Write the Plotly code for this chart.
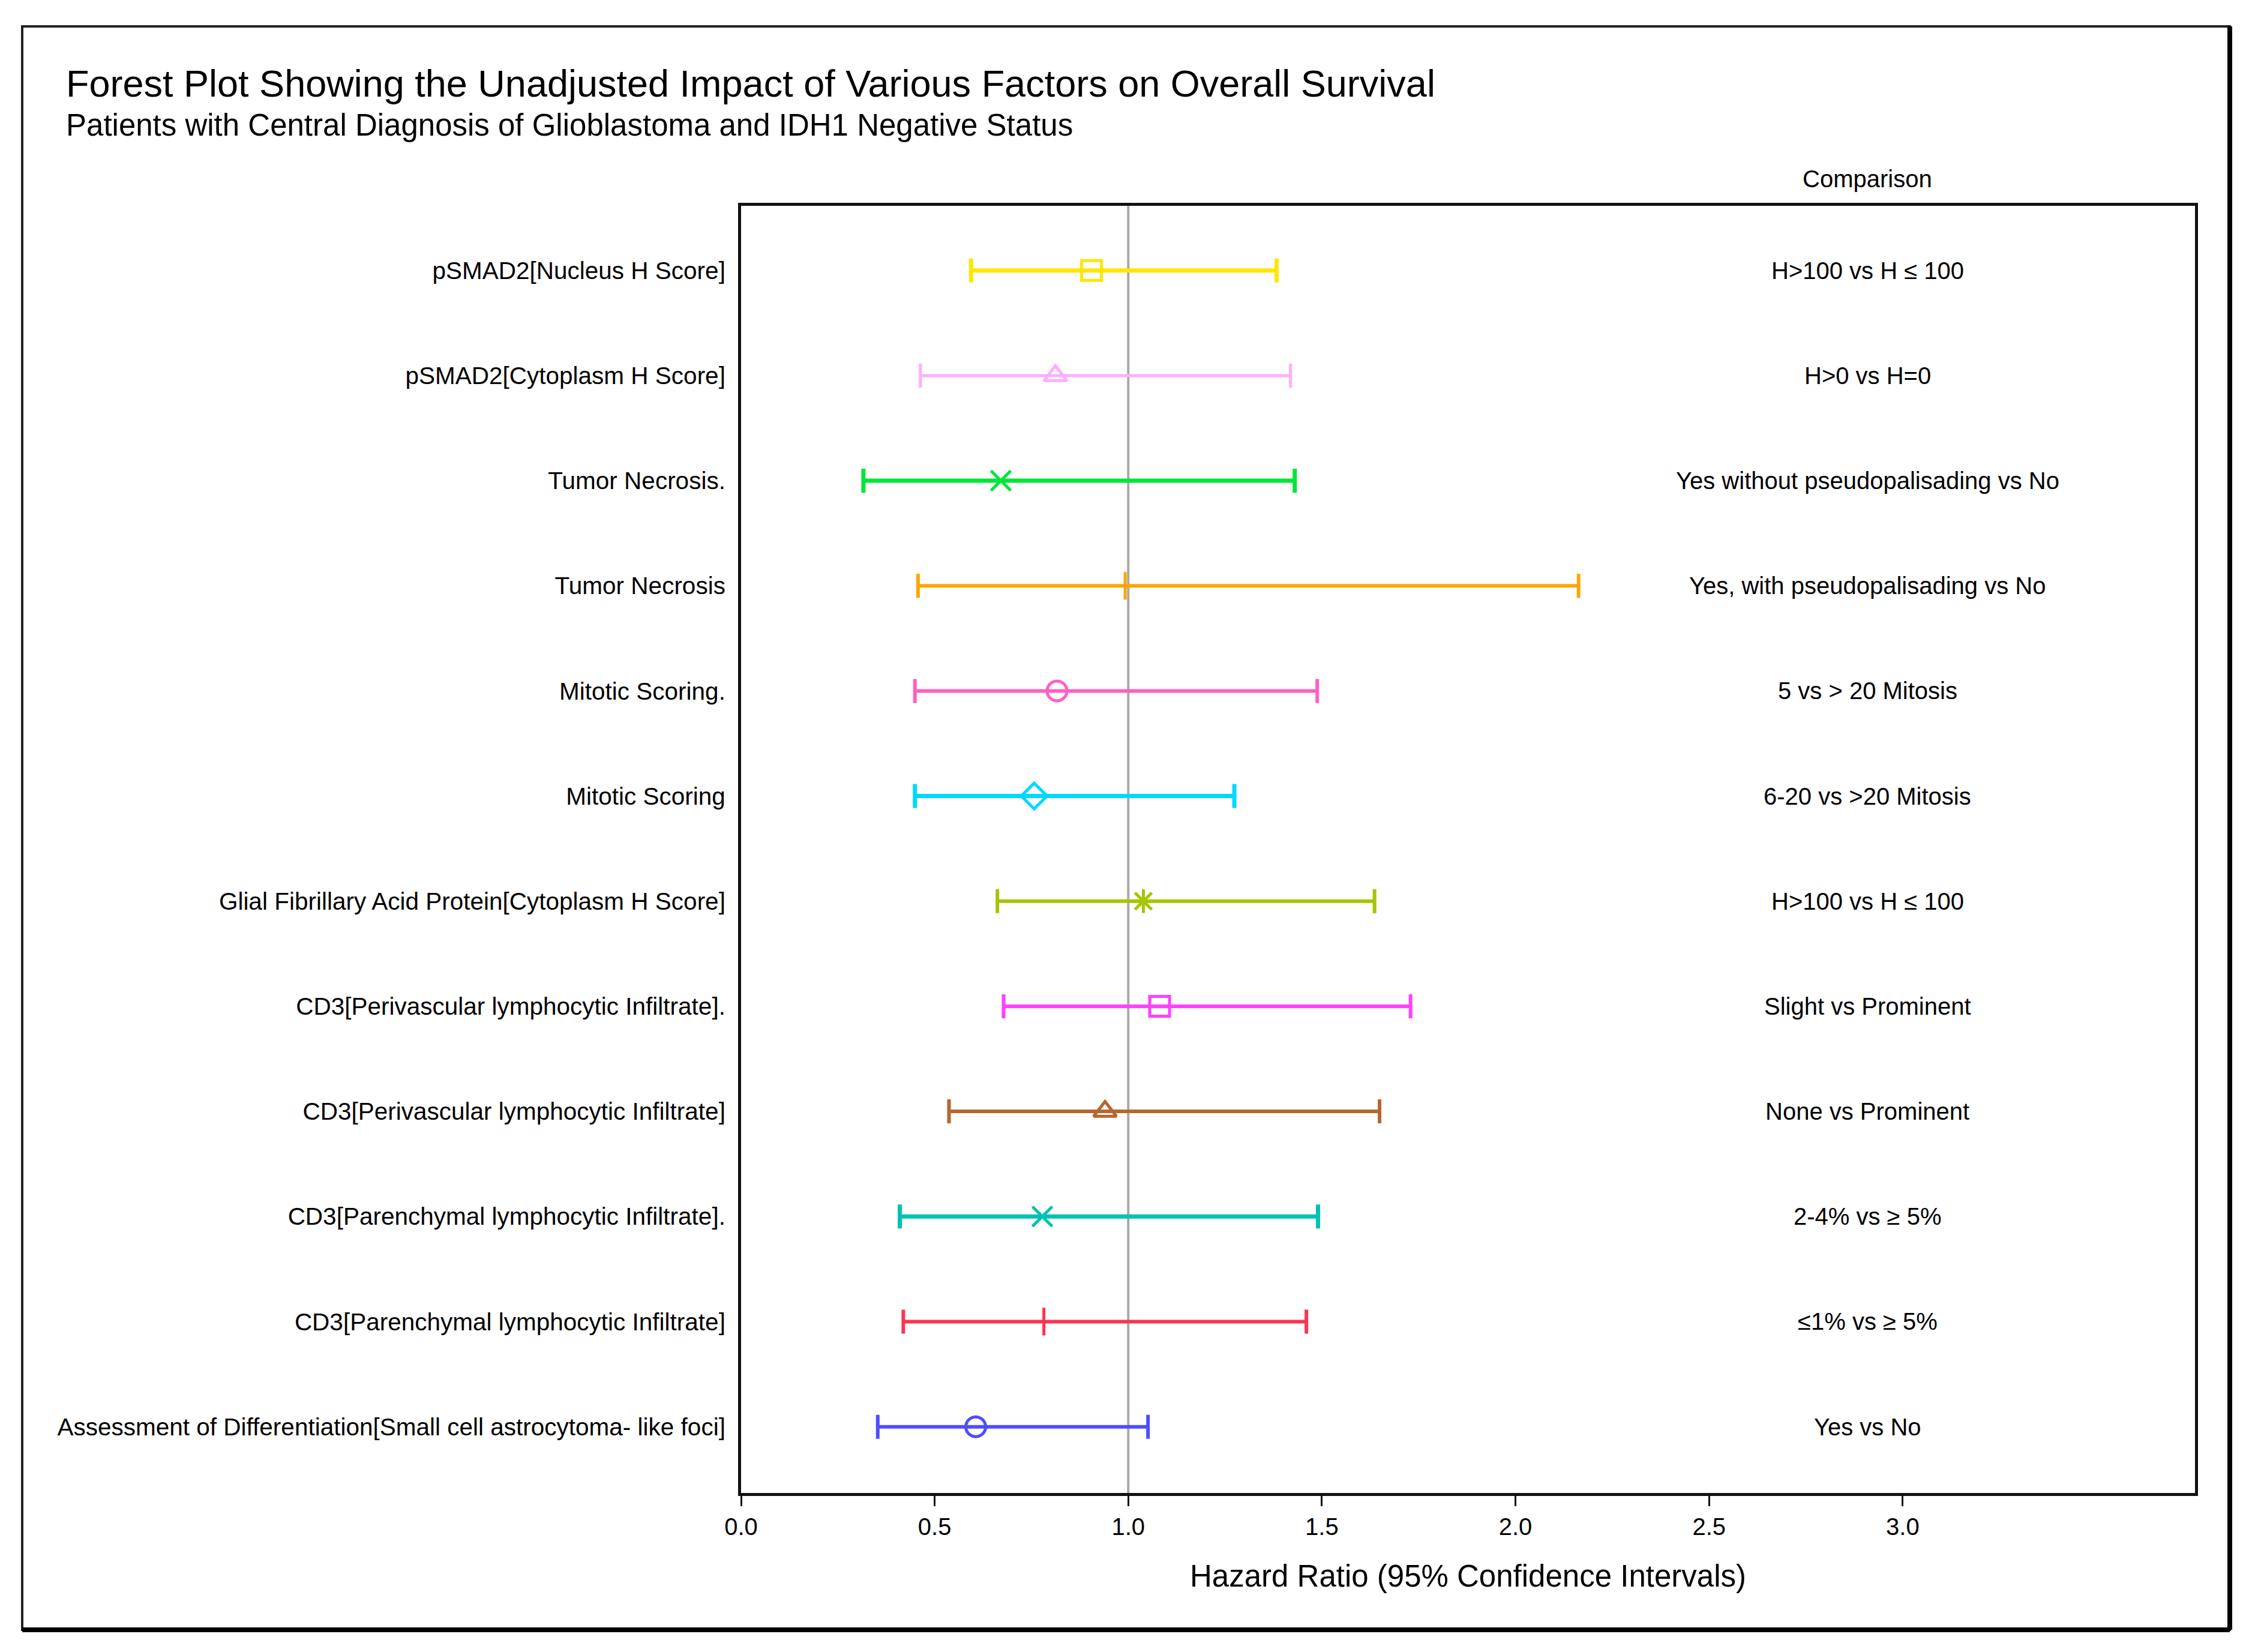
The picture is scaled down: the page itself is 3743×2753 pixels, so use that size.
import plotly.graph_objects as go

factors = [
    "pSMAD2[Nucleus H Score]",
    "pSMAD2[Cytoplasm H Score]",
    "Tumor Necrosis.",
    "Tumor Necrosis",
    "Mitotic Scoring.",
    "Mitotic Scoring",
    "Glial Fibrillary Acid Protein[Cytoplasm H Score]",
    "CD3[Perivascular lymphocytic Infiltrate].",
    "CD3[Perivascular lymphocytic Infiltrate]",
    "CD3[Parenchymal lymphocytic Infiltrate].",
    "CD3[Parenchymal lymphocytic Infiltrate]",
    "Assessment of Differentiation[Small cell astrocytoma- like foci]",
]
comparisons = [
    "H>100 vs H ≤ 100",
    "H>0 vs H=0",
    "Yes without pseudopalisading vs No",
    "Yes, with pseudopalisading vs No",
    "5 vs > 20 Mitosis",
    "6-20 vs >20 Mitosis",
    "H>100 vs H ≤ 100",
    "Slight vs Prominent",
    "None vs Prominent",
    "2-4% vs ≥ 5%",
    "≤1% vs ≥ 5%",
    "Yes vs No",
]
hazard_ratio = [0.905, 0.812, 0.671, 0.992, 0.816, 0.757, 1.039, 1.081, 0.940, 0.778, 0.782, 0.606]
ci_lower = [0.594, 0.463, 0.316, 0.457, 0.449, 0.449, 0.662, 0.678, 0.537, 0.410, 0.419, 0.353]
ci_upper = [1.383, 1.419, 1.430, 2.163, 1.488, 1.274, 1.636, 1.729, 1.649, 1.490, 1.460, 1.051]
x_ticks = [0.0, 0.5, 1.0, 1.5, 2.0, 2.5, 3.0]

colors = ["#FFE600", "#FFADFF", "#00E639", "#FFA500", "#FF5EC4", "#00D9FF",
          "#A6C400", "#FF40FF", "#B8652E", "#00C2B2", "#FF3350", "#4D4DFF"]
symbols = ["square-open", "triangle-up-open", "x-thin-open", "line-ns-open", "circle-open",
           "diamond-open", "asterisk-open", "square-open", "triangle-up-open", "x-thin-open",
           "cross-thin-open", "circle-open"]
thick = [7, 5, 7, 6, 6, 7, 6, 6, 6, 7, 6, 6]

FONT = "Liberation Sans, Arial, sans-serif"
TXT = "#000000"
BODY = 8  # default page margin of the html body
PL, PR, PT, PB = 1235, 3658, 343, 2488  # plot area pixels in the reference
PW, PH = PR - PL, PB - PT


def px_to_paper_x(px):
    return (px - PL) / PW


def px_to_paper_y(py):
    return (PB - py) / PH


fig = go.Figure()
rows = list(range(1, len(factors) + 1))

for i, f in enumerate(factors):
    fig.add_trace(go.Scatter(
        x=[hazard_ratio[i]], y=[rows[i]], mode="markers",
        marker=dict(symbol=symbols[i], size=33, color=colors[i],
                    line=dict(color=colors[i], width=5)),
        error_x=dict(type="data", symmetric=False,
                     array=[ci_upper[i] - hazard_ratio[i]],
                     arrayminus=[hazard_ratio[i] - ci_lower[i]],
                     color=colors[i], thickness=thick[i], width=20),
        showlegend=False, name=f,
    ))

# reference line at HR = 1
fig.add_shape(type="line", x0=1, x1=1, y0=0, y1=1, xref="x", yref="paper",
              line=dict(color="#A8A8A8", width=4), layer="below")

# comparison column
for i, c in enumerate(comparisons):
    fig.add_annotation(x=2.909, y=rows[i], xref="x", yref="y", text=c, showarrow=False,
                       xanchor="center", yanchor="middle",
                       font=dict(family=FONT, size=40, color=TXT))
fig.add_annotation(x=2.909, y=px_to_paper_y(298), xref="x", yref="paper", text="Comparison",
                   showarrow=False, xanchor="center", yanchor="middle",
                   font=dict(family=FONT, size=40, color=TXT))

# titles
fig.add_annotation(x=px_to_paper_x(108), y=px_to_paper_y(139), xref="paper", yref="paper",
                   text="Forest Plot Showing the Unadjusted Impact of Various Factors on Overall Survival",
                   showarrow=False, xanchor="left", yanchor="middle",
                   font=dict(family=FONT, size=63, color=TXT))
fig.add_annotation(x=px_to_paper_x(108), y=px_to_paper_y(208), xref="paper", yref="paper",
                   text="Patients with Central Diagnosis of Glioblastoma and IDH1 Negative Status",
                   showarrow=False, xanchor="left", yanchor="middle",
                   font=dict(family=FONT, size=51, color=TXT))
fig.add_annotation(x=0.5, y=px_to_paper_y(2626), xref="paper", yref="paper",
                   text="Hazard Ratio (95% Confidence Intervals)", showarrow=False,
                   xanchor="center", yanchor="middle", font=dict(family=FONT, size=51, color=TXT))

# outer frame (thin left/top, heavier right/bottom)
fx0, fx1, fy0, fy1 = px_to_paper_x(37), px_to_paper_x(3716), px_to_paper_y(2716), px_to_paper_y(44)
fig.add_shape(type="rect", xref="paper", yref="paper", x0=fx0, x1=fx1, y0=fy0, y1=fy1,
              line=dict(color="#222222", width=4), fillcolor="rgba(0,0,0,0)")
fig.add_shape(type="line", xref="paper", yref="paper", x0=fx1, x1=fx1, y0=fy0, y1=fy1,
              line=dict(color="#000000", width=8))
fig.add_shape(type="line", xref="paper", yref="paper", x0=fx0, x1=fx1, y0=fy0, y1=fy0,
              line=dict(color="#000000", width=8))

fig.update_layout(
    width=3743, height=2753,
    margin=dict(l=PL - BODY, r=3743 - PR + BODY, t=PT - BODY, b=2753 - PB + BODY),
    paper_bgcolor="white", plot_bgcolor="white",
    font=dict(family=FONT, size=40, color=TXT),
    xaxis=dict(range=[0, 3.755], tickvals=x_ticks, ticktext=[f"{v:.1f}" for v in x_ticks],
               showgrid=False, zeroline=False, showline=True, linecolor="#111111", linewidth=5,
               mirror=True, ticks="outside", ticklen=17, tickwidth=3, tickcolor="#111111",
               tickfont=dict(family=FONT, size=40, color=TXT)),
    yaxis=dict(range=[12.63, 0.385], tickvals=rows, ticktext=factors,
               showgrid=False, zeroline=False, showline=True, linecolor="#111111", linewidth=5,
               mirror=True, ticks="", ticklabelstandoff=13,
               tickfont=dict(family=FONT, size=40.5, color=TXT)),
)

fig.write_html("out.html")
